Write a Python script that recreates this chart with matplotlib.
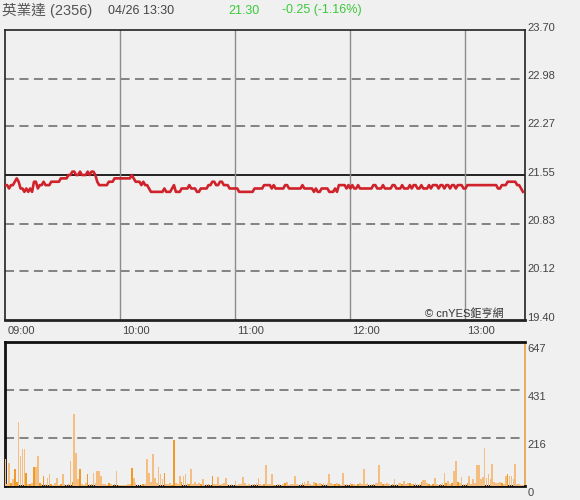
import matplotlib
matplotlib.use("Agg")
import matplotlib.pyplot as plt

plt.rcParams['font.family'] = ['Liberation Sans', 'Noto Sans CJK TC', 'DejaVu Sans']

# header info
stock_name = "英業達 (2356)"
stamp = "04/26 13:30"
last_price = "21.30"
change_text = "-0.25 (-1.16%)"
prev_close = 21.55

# axis labels
price_ticks = [19.40, 20.12, 20.83, 21.55, 22.27, 22.98, 23.70]
vol_ticks = [0, 216, 431, 647]
hour_labels = ["09:00", "10:00", "11:00", "12:00", "13:00"]
hour_minutes = [0, 60, 120, 180, 240]

# one value per minute, 09:00 .. 13:30
prices = [
    21.40, 21.40, 21.35, 21.40, 21.40, 21.45, 21.50, 21.45, 21.35, 21.35, 21.30,
    21.35, 21.30, 21.35, 21.30, 21.45, 21.45, 21.35, 21.40, 21.40, 21.45,
    21.40, 21.40, 21.40, 21.45, 21.45, 21.45, 21.45, 21.45, 21.50, 21.50,
    21.50, 21.50, 21.55, 21.55, 21.60, 21.60, 21.55, 21.55, 21.60, 21.55,
    21.55, 21.55, 21.60, 21.55, 21.60, 21.60, 21.55, 21.45, 21.40, 21.40,
    21.40, 21.40, 21.40, 21.45, 21.45, 21.45, 21.50, 21.50, 21.50, 21.50,
    21.50, 21.50, 21.50, 21.50, 21.50, 21.55, 21.50, 21.45, 21.45, 21.45,
    21.40, 21.45, 21.40, 21.40, 21.35, 21.30, 21.30, 21.30, 21.30, 21.30,
    21.30, 21.30, 21.35, 21.30, 21.30, 21.30, 21.35, 21.40, 21.30, 21.30,
    21.30, 21.35, 21.35, 21.35, 21.35, 21.40, 21.35, 21.35, 21.35, 21.30,
    21.30, 21.35, 21.35, 21.35, 21.35, 21.40, 21.40, 21.45, 21.45, 21.40,
    21.40, 21.45, 21.45, 21.40, 21.40, 21.40, 21.35, 21.35, 21.35, 21.35,
    21.35, 21.30, 21.30, 21.30, 21.30, 21.30, 21.30, 21.30, 21.30, 21.35,
    21.35, 21.35, 21.35, 21.35, 21.40, 21.40, 21.40, 21.40, 21.35, 21.40,
    21.35, 21.35, 21.35, 21.35, 21.35, 21.40, 21.40, 21.35, 21.35, 21.35,
    21.35, 21.35, 21.35, 21.35, 21.40, 21.35, 21.35, 21.35, 21.35, 21.35,
    21.30, 21.35, 21.30, 21.30, 21.35, 21.35, 21.35, 21.35, 21.30, 21.30,
    21.30, 21.35, 21.30, 21.40, 21.40, 21.40, 21.40, 21.35, 21.40, 21.35,
    21.40, 21.35, 21.35, 21.40, 21.35, 21.35, 21.35, 21.35, 21.35, 21.35,
    21.35, 21.40, 21.40, 21.35, 21.35, 21.35, 21.40, 21.35, 21.35, 21.35,
    21.35, 21.40, 21.40, 21.35, 21.35, 21.35, 21.40, 21.35, 21.35, 21.35,
    21.40, 21.35, 21.40, 21.40, 21.35, 21.35, 21.40, 21.35, 21.35, 21.35,
    21.40, 21.35, 21.40, 21.40, 21.40, 21.35, 21.40, 21.40, 21.35, 21.40,
    21.40, 21.35, 21.40, 21.40, 21.35, 21.40, 21.40, 21.40, 21.35, 21.35,
    21.40, 21.40, 21.40, 21.40, 21.40, 21.40, 21.40, 21.40, 21.40, 21.40,
    21.40, 21.40, 21.40, 21.40, 21.40, 21.40, 21.35, 21.35, 21.40, 21.40,
    21.40, 21.45, 21.45, 21.45, 21.45, 21.45, 21.40, 21.40, 21.35, 21.30,
]

volumes = [
    122, 10, 104, 15, 30, 77, 20, 286, 135, 167, 167,
    60, 10, 8, 12, 86, 86, 135, 15, 10, 45,
    8, 38, 52, 10, 5, 12, 38, 6, 10, 52,
    8, 5, 10, 113, 20, 325, 150, 30, 77, 10,
    5, 12, 52, 8, 10, 60, 15, 68, 68, 45,
    10, 8, 5, 12, 10, 6, 8, 68, 5, 4,
    6, 3, 5, 8, 10, 79, 38, 15, 6, 4,
    5, 8, 10, 122, 60, 20, 143, 38, 15, 86,
    52, 30, 57, 10, 8, 12, 6, 208, 15, 10,
    45, 20, 45, 52, 12, 8, 77, 10, 20, 8,
    12, 10, 32, 6, 8, 10, 6, 45, 8, 10,
    40, 6, 8, 12, 38, 10, 5, 8, 6, 22,
    5, 8, 10, 40, 12, 6, 8, 5, 10, 8,
    12, 38, 10, 5, 8, 94, 10, 8, 52, 5,
    6, 8, 10, 5, 8, 12, 16, 6, 10, 8,
    45, 10, 6, 8, 12, 20, 8, 22, 10, 6,
    20, 15, 8, 12, 10, 15, 8, 12, 56, 15,
    10, 8, 12, 10, 6, 57, 8, 10, 6, 12,
    8, 10, 5, 8, 12, 10, 77, 8, 12, 6,
    10, 8, 12, 15, 94, 20, 10, 8, 12, 10,
    6, 8, 32, 10, 12, 15, 8, 22, 10, 12,
    15, 8, 10, 12, 8, 10, 20, 26, 26, 12,
    8, 6, 10, 34, 8, 6, 10, 15, 57, 12,
    22, 10, 15, 68, 113, 20, 12, 42, 10, 8,
    12, 45, 10, 32, 15, 95, 95, 30, 40, 170,
    38, 56, 30, 100, 20, 15, 12, 20, 15, 10,
    45, 52, 45, 45, 30, 97, 10, 8, 6, 5,
]

minutes = list(range(len(prices)))
bg = "#f0f0f0"

fig = plt.figure(figsize=(5.8, 5.0), dpi=100, facecolor=bg)
ax = fig.add_axes([0.009, 0.36, 0.896, 0.58], facecolor=bg)
axv = fig.add_axes([0.009, 0.028, 0.896, 0.288], facecolor=bg)

# ---- price panel
for p in price_ticks[1:-1]:
    if p == prev_close:
        ax.axhline(p, color="#222222", lw=1.4, zorder=1)
    else:
        ax.axhline(p, color="#7a7a7a", lw=1.3, ls=(0, (5, 3)), zorder=1)
for m in hour_minutes[1:]:
    ax.axvline(m, color="#8c8c8c", lw=1.0, zorder=1)

ax.plot(minutes, prices, color="#d0222a", lw=1.9, zorder=3)
ax.set_xlim(0, 271)
ax.set_ylim(price_ticks[0], price_ticks[-1])
ax.set_xticks([])
ax.set_yticks([])
for s in ax.spines.values():
    s.set_color("#222222")
    s.set_linewidth(1.2)
ax.spines["bottom"].set_linewidth(2)

for p in price_ticks:
    ax.text(1.005, (p - price_ticks[0]) / (price_ticks[-1] - price_ticks[0]) + 0.008,
            f"{p:.2f}", transform=ax.transAxes, ha="left", va="center",
            fontsize=8, color="#444444")
for lab, m in zip(hour_labels, hour_minutes):
    ax.text(m + 1, -0.02, lab, transform=ax.get_xaxis_transform(),
            ha="left", va="top", fontsize=8, color="#444444")
ax.text(0.96, 0.005, "© cnYES鉅亨網", transform=ax.transAxes, ha="right",
        va="bottom", fontsize=8, color="#333333")

# ---- volume panel
bar_colors = []
for i, p in enumerate(prices):
    if i > 0 and p > prices[i - 1]:
        bar_colors.append("#f09a28")
    else:
        bar_colors.append("#f6bd80")
axv.bar(minutes, volumes, width=0.85, color=bar_colors, edgecolor="none",
        linewidth=0, zorder=3)
for v in vol_ticks[1:3]:
    axv.axhline(v, color="#7a7a7a", lw=1.3, ls=(0, (5, 3)), zorder=1)
axv.set_xlim(0, 271)
axv.set_ylim(0, vol_ticks[-1])
axv.set_xticks([])
axv.set_yticks([])
for s in axv.spines.values():
    s.set_color("#111111")
    s.set_linewidth(2)
axv.spines["right"].set_color("#e8a040")
axv.spines["right"].set_linewidth(1.2)
for v in vol_ticks:
    axv.text(1.005, v / vol_ticks[-1] - 0.015, str(v), transform=axv.transAxes,
             ha="left", va="top", fontsize=8, color="#444444")

# ---- header
fig.text(0.003, 0.979, stock_name, ha="left", va="center", fontsize=10.5, color="#555555")
fig.text(0.186, 0.979, stamp, ha="left", va="center", fontsize=9, color="#444444")
fig.text(0.393, 0.979, last_price, ha="left", va="center", fontsize=9, color="#3cc83c")
fig.text(0.486, 0.979, change_text, ha="left", va="center", fontsize=9, color="#3cc83c")

fig.savefig("out.png", dpi=100, facecolor=bg)
